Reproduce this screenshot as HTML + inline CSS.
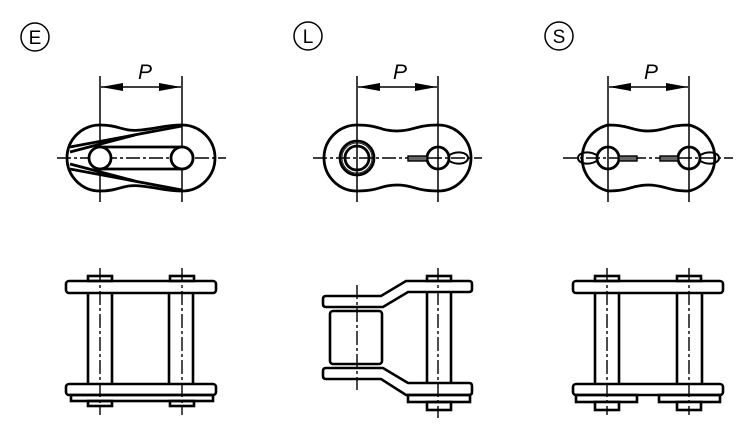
<!DOCTYPE html>
<html><head><meta charset="utf-8"><style>
html,body{margin:0;padding:0;background:#fff;}
svg{display:block;}
text{font-family:"Liberation Sans",sans-serif;}
</style></head><body>
<svg width="750" height="438" viewBox="0 0 750 438" xmlns="http://www.w3.org/2000/svg">
<g fill="none" stroke="#000">
<!-- labels -->
<circle cx="35" cy="37" r="14" stroke-width="1.5"/>
<text x="35" y="44" font-size="19" text-anchor="middle" fill="#000" stroke="none">E</text>
<circle cx="308" cy="36" r="14" stroke-width="1.5"/>
<text x="308" y="43" font-size="19" text-anchor="middle" fill="#000" stroke="none">L</text>
<circle cx="559" cy="36" r="14" stroke-width="1.5"/>
<text x="559" y="43" font-size="19" text-anchor="middle" fill="#000" stroke="none">S</text>

<!-- dimension P -->
<g stroke-width="1.5">
<line x1="100" y1="76" x2="100" y2="202"/><line x1="182" y1="76" x2="182" y2="202"/>
<line x1="101" y1="87" x2="181" y2="87"/>
<line x1="357" y1="76" x2="357" y2="202"/><line x1="438" y1="76" x2="438" y2="202"/>
<line x1="358" y1="87" x2="437" y2="87"/>
<line x1="608" y1="76" x2="608" y2="202"/><line x1="689" y1="76" x2="689" y2="202"/>
<line x1="609" y1="87" x2="688" y2="87"/>
</g>
<g fill="#000" stroke="none">
<path d="M101,87 L123,83 L123,91 Z"/><path d="M181,87 L159,83 L159,91 Z"/>
<path d="M358,87 L380,83 L380,91 Z"/><path d="M437,87 L415,83 L415,91 Z"/>
<path d="M609,87 L631,83 L631,91 Z"/><path d="M688,87 L666,83 L666,91 Z"/>
</g>
<g fill="#000" stroke="none" font-size="21" font-style="italic">
<text x="138" y="79">P</text><text x="393" y="79">P</text><text x="644" y="79">P</text>
</g>

<!-- center lines horizontal -->
<g stroke-width="1.4" stroke-dasharray="14,3,3,3">
<line x1="57" y1="158" x2="226" y2="158"/>
<line x1="313" y1="158" x2="482" y2="158"/>
<line x1="563" y1="158" x2="733" y2="158"/>
</g>

<!-- E top -->
<g stroke-width="2.8">
<path d="M100,125 C120,125 122,132 141,130 C160,128 165,125 182,125 A33,33 0 0 1 182,191 C165,191 160,188 141,186 C122,184 120,191 100,191 A33,33 0 0 1 100,125 Z"/>
<path d="M70,147 L182,126 M70,152 L135,135"/>
<path d="M70,169 L182,190 M70,164 L135,181"/>
<path d="M100,147 L182,147 A11,11 0 0 1 182,169 L100,169"/>
<circle cx="100" cy="158" r="11" fill="#fff"/><circle cx="182" cy="158" r="11" fill="#fff"/>
</g>

<!-- L top -->
<g stroke-width="2.8">
<path d="M357,125 C380,125 380,131 397,131 C414,131 415,125 438,125 A33,33 0 0 1 438,191 C415,191 414,185 397,185 C380,185 380,191 357,191 A33,33 0 0 1 357,125 Z"/>
<circle cx="357" cy="158" r="17"/><circle cx="357" cy="158" r="12"/>
<circle cx="438" cy="158" r="11"/>
<rect x="408" y="156" width="19" height="5" fill="#666" stroke-width="1.4"/>
<path d="M448,156 C456,150 468,152 468,158 C468,164 456,166 448,160" stroke-width="2"/>
</g>
<circle cx="357" cy="158" r="15" stroke-width="0.8"/>

<!-- S top -->
<g stroke-width="2.8">
<path d="M608,125 C630,125 632,131 648,131 C665,131 667,125 689,125 A34,34 0 0 1 689,191 C667,191 665,185 648,185 C632,185 630,191 608,191 A34,34 0 0 1 608,125 Z"/>
<circle cx="608" cy="158" r="11"/><circle cx="689" cy="158" r="11"/>
<rect x="619" y="156" width="18" height="5" fill="#666" stroke-width="1.4"/>
<rect x="660" y="156" width="18" height="5" fill="#666" stroke-width="1.4"/>
<path d="M598,156 C590,150 578,152 578,158 C578,164 590,166 598,160" stroke-width="2"/>
<path d="M699,156 C707,150 719,152 719,158 C719,164 707,166 699,160" stroke-width="2"/>
</g>

<!-- E bottom -->
<g stroke-width="2.6">
<rect x="88" y="276" width="24" height="5"/><rect x="170" y="276" width="24" height="5"/>
<rect x="66" y="281" width="150" height="12" rx="3"/>
<line x1="88" y1="293" x2="88" y2="384"/><line x1="112" y1="293" x2="112" y2="384"/>
<line x1="169" y1="293" x2="169" y2="384"/><line x1="193" y1="293" x2="193" y2="384"/>
<rect x="66" y="384" width="150" height="11" rx="3"/>
<rect x="71" y="395" width="142" height="6"/>
<rect x="88" y="401" width="24" height="5"/><rect x="170" y="401" width="24" height="5"/>
</g>

<!-- L bottom -->
<g stroke-width="2.6">
<rect x="427" y="276" width="24" height="5"/>
<path d="M326,296 L381,296 L406,281 L469,281 Q472,281 472,284 L472,289 Q472,292 469,292 L408,292 L383,307 L326,307 Q323,307 323,304 L323,299 Q323,296 326,296 Z"/>
<rect x="330" y="311" width="52" height="53" rx="3"/>
<line x1="427" y1="292" x2="427" y2="383"/><line x1="451" y1="292" x2="451" y2="383"/>
<path d="M326,368 L383,368 L408,383 L469,383 Q472,383 472,386 L472,392 Q472,395 469,395 L406,395 L381,379 L326,379 Q323,379 323,376 L323,371 Q323,368 326,368 Z"/>
<rect x="408" y="395" width="62" height="7"/>
<rect x="427" y="402" width="24" height="8"/>
</g>

<!-- S bottom -->
<g stroke-width="2.6">
<rect x="595" y="276" width="24" height="5"/><rect x="677" y="276" width="24" height="5"/>
<rect x="573" y="281" width="150" height="12" rx="3"/>
<line x1="595" y1="293" x2="595" y2="384"/><line x1="619" y1="293" x2="619" y2="384"/>
<line x1="677" y1="293" x2="677" y2="384"/><line x1="702" y1="293" x2="702" y2="384"/>
<rect x="573" y="384" width="150" height="11" rx="3"/>
<rect x="576" y="395" width="61" height="7"/><rect x="659" y="395" width="61" height="7"/>
<rect x="595" y="402" width="24" height="8" fill="#fff"/><rect x="677" y="402" width="24" height="8" fill="#fff"/>
</g>

<!-- vertical center lines bottom -->
<g stroke-width="1.4" stroke-dasharray="14,3,3,3">
<line x1="100" y1="268" x2="100" y2="415"/><line x1="182" y1="268" x2="182" y2="415"/>
<line x1="357" y1="285" x2="357" y2="390"/><line x1="438" y1="268" x2="438" y2="418"/>
<line x1="607" y1="268" x2="607" y2="415"/><line x1="689" y1="268" x2="689" y2="415"/>
</g>
</g>
</svg>
</body></html>
